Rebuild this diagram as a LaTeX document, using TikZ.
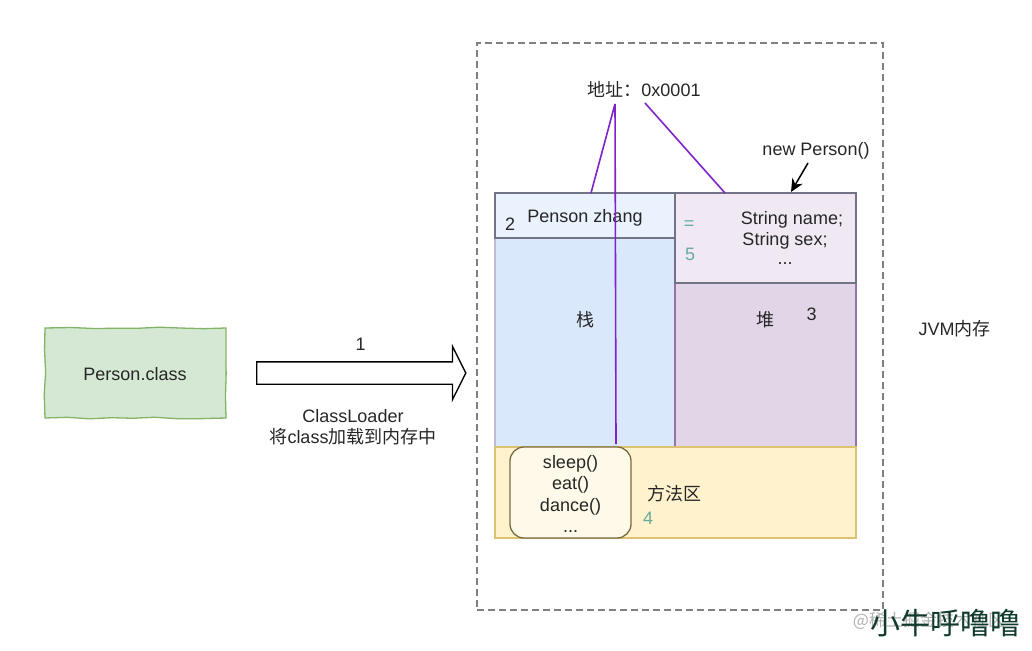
\documentclass[tikz,border=0pt]{standalone}
\usepackage{fontspec}
\setmainfont{Liberation Sans}
\newfontfamily\cjk{Noto Sans CJK SC}
\usetikzlibrary{shapes.arrows,decorations.pathmorphing,arrows.meta}
\definecolor{greenfill}{HTML}{D5E8D4}
\definecolor{greenline}{HTML}{82B366}
\definecolor{bluefill}{HTML}{DAE8FC}
\definecolor{bluepale}{HTML}{EAF2FD}
\definecolor{violetfill}{HTML}{E1D5E7}
\definecolor{violetpale}{HTML}{F0E9F3}
\definecolor{violetline}{HTML}{9673A6}
\definecolor{yellowfill}{HTML}{FFF2CC}
\definecolor{yellowline}{HTML}{DCC272}
\definecolor{yellowpale}{HTML}{FEF9E8}
\definecolor{slateline}{HTML}{737387}
\definecolor{pointer}{HTML}{7F22C8}
\definecolor{teal}{HTML}{67AB9F}
\definecolor{inkgreen}{HTML}{0F3B2E}
\tikzset{
  box/.style={shape=rectangle,draw,line width=1.3pt,inner sep=0pt},
  txt/.style={inner sep=0pt,align=center,text=black!85,font=\fontsize{18}{21.5}\selectfont},
  num/.style={txt,text=teal},
  ptr/.style={draw=pointer,line width=1.6pt}
}
\begin{document}
\begin{tikzpicture}[x=1pt,y=-1pt]
\useasboundingbox (0,0) rectangle (1032,650);
\node (Jvm) at (680,326.5) [box,draw=black!50,dash pattern=on 7pt off 4pt,minimum width=406pt,minimum height=567pt]{};
\node (Class) at (135.5,373) [box,draw=greenline,fill=greenfill,minimum width=181pt,minimum height=90pt,decorate,decoration={random steps,segment length=22pt,amplitude=0.9pt}]{};
\node (Load) at (358.5,373) [shape=single arrow,draw=black,fill=white,line width=1.3pt,inner xsep=0pt,inner ysep=10.5pt,minimum height=209pt,single arrow head extend=15.5pt,single arrow tip angle=127]{};
\node (Stack) at (585,320) [box,draw=bluefill!60!violetline,fill=bluefill,minimum width=180pt,minimum height=254pt]{};
\node (Heap) at (765.5,320) [box,draw=violetline,fill=violetfill,minimum width=181pt,minimum height=254pt]{};
\node (Zhang) at (585,215.5) [box,draw=slateline,fill=bluepale,minimum width=180pt,minimum height=45pt]{};
\node (Fields) at (765.5,238) [box,draw=slateline,fill=violetpale,minimum width=181pt,minimum height=90pt]{};
\node (Method) at (675.5,492.5) [box,draw=yellowline,fill=yellowfill,minimum width=361pt,minimum height=91pt]{};
\node (Funcs) at (570.5,492.5) [box,draw=black!45!yellowline,fill=yellowpale,rounded corners=14pt,minimum width=121pt,minimum height=91pt]{};
\node (ClassTxt) at (135,374) [txt]{Person.class};
\node (One) at (360.5,344) [txt]{1};
\node (Loader) at (353,427) [txt]{ClassLoader\\{\cjk 将}class{\cjk 加载到内存中}};
\node (Addr) at (644,89) [txt]{{\cjk 地址：}0x0001};
\node (New) at (816,150.5) [txt]{new Person()};
\node (ZhangTxt) at (585,217.5) [txt]{Penson zhang};
\node (Two) at (510,224.5) [txt]{2};
\node (Eq) at (689,225) [num]{=};
\node (Five) at (690,254.5) [num]{5};
\node (Name) at (792,219.5) [txt]{String name;};
\node (Sex) at (785,240.5) [txt]{String sex;};
\node (Dots) at (785,264) [txt]{...};
\node (Zhan) at (585,320) [txt,font=\cjk\fontsize{18}{21.5}\selectfont]{栈};
\node (Dui) at (765,320) [txt,font=\cjk\fontsize{18}{21.5}\selectfont]{堆};
\node (Three) at (811.5,314) [txt]{3};
\node (Jvmtxt) at (954.5,328.5) [txt]{JVM{\cjk 内存}};
\node (FuncTxt) at (570.5,494) [txt]{sleep()\\eat()\\dance()\\...};
\node (Area) at (674.5,494) [txt,font=\cjk\fontsize{18}{21.5}\selectfont]{方法区};
\node (Four) at (648,518) [num]{4};
\node (Mark) at (929,621) [inner sep=0pt,text=black!30,font=\cjk\fontsize{17}{20}\selectfont]{@稀土掘金技术社区};
\node (Sign) at (945,623) [inner sep=0pt,text=inkgreen,font=\cjk\fontsize{30}{32}\selectfont]{小牛呼噜噜};
\coordinate (AddrL) at (615,104);
\coordinate (AddrR) at (645,103);
\coordinate (ZhangTop) at (591,193);
\coordinate (FuncTop) at (616,444);
\coordinate (FieldTop) at (725,193);
\coordinate (NewTail) at (808,163);
\coordinate (NewHead) at (791,192);
\draw [ptr] (AddrL) to (ZhangTop);
\draw [ptr] (AddrL) to (FuncTop);
\draw [ptr] (AddrR) to (FieldTop);
\draw [-{Stealth[length=13pt,width=12pt]},line width=1.5pt] (NewTail) to (NewHead);
\end{tikzpicture}
\end{document}
